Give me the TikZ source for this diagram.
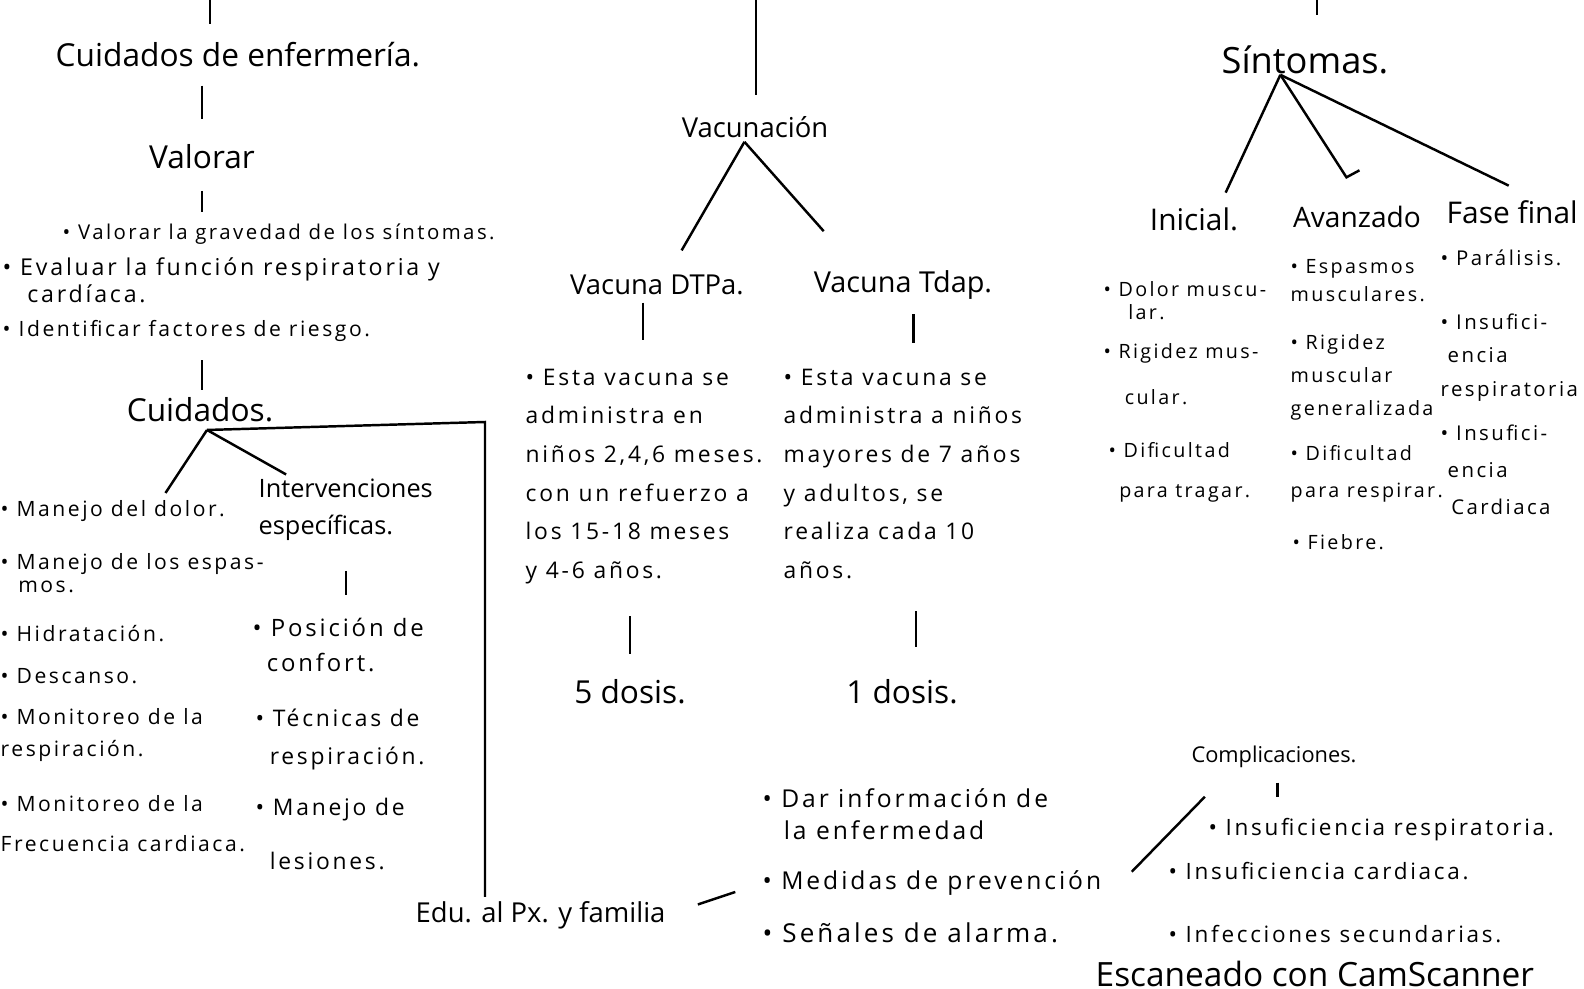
\documentclass[tikz,border=0pt]{standalone}
\usepackage{fontspec}
\setmainfont{Open Sans}
\newfontfamily\mano{Open Sans}[LetterSpace=12]
\tikzstyle{titulo}=[font=\fontsize{9}{11}\selectfont,inner sep=0pt]
\tikzstyle{rama}=[font=\fontsize{7.8}{10.5}\selectfont,inner sep=0pt]
\tikzstyle{nota}=[font=\mano\fontsize{6}{10}\selectfont,inner sep=0pt,align=left,anchor=north west]
\tikzstyle{trazo}=[line width=0.7pt]

\begin{document}
\begin{tikzpicture}[x=0.01cm,y=-0.01cm]
\fill[white] (0,0) rectangle (1584,989);
\useasboundingbox (0,0) rectangle (1584,989);
% cuidados de enfermeria
\coordinate (sup1) at (210,-5);
\node[titulo,anchor=west] at (55,55) (cde) {Cuidados de enfermería.};
\node[rama,font=\fontsize{9}{11}\selectfont] at (202,157) (val) {Valorar};
\node[nota,font=\mano\fontsize{5.8}{7}\selectfont] at (62,223) (val1) {\textbullet{} Valorar la gravedad de los síntomas.};
\node[nota,font=\mano\fontsize{6.6}{5.5}\selectfont] at (2,257) (val2) {\textbullet{} Evaluar la función respiratoria y\\\hspace{7pt}cardíaca.};
\node[nota] at (2,320) (val3) {\textbullet{} Identificar factores de riesgo.};
\node[titulo] at (200,410) (cui) {Cuidados.};
\coordinate (cuip) at ([xshift=2pt,yshift=-2pt]cui.south);
\coordinate (esq) at (485,422);
\node[nota] at (0,500) (man1) {\textbullet{} Manejo del dolor.};
\node[nota,font=\mano\fontsize{6}{6.5}\selectfont] at (0,553) (man2) {\textbullet{} Manejo de los espas-\\\hspace{5pt}mos.};
\node[nota] at (0,625) (man3) {\textbullet{} Hidratación.};
\node[nota] at (0,668) (man4) {\textbullet{} Descanso.};
\node[nota,font=\mano\fontsize{6}{9}\selectfont] at (0,708) (man5) {\textbullet{} Monitoreo de la\\respiración.};
\node[nota,font=\mano\fontsize{6}{11.4}\selectfont] at (0,795) (man6) {\textbullet{} Monitoreo de la\\Frecuencia cardiaca.};
\node[nota,font=\fontsize{7.2}{10.5}\selectfont] at (258,478) (int) {Intervenciones\\específicas.};
\node[nota,font=\mano\fontsize{6.8}{10}\selectfont] at (252,617) (pos) {\textbullet{} Posición de\\\hspace{4pt}confort.};
\node[nota,font=\mano\fontsize{6.5}{10.8}\selectfont] at (255,708) (tec) {\textbullet{} Técnicas de\\\hspace{4pt}respiración.};
\node[nota,font=\mano\fontsize{6.5}{15.5}\selectfont] at (255,797) (mnj) {\textbullet{} Manejo de\\\hspace{4pt}lesiones.};
\node[rama,anchor=west] at (415,915) (edu) {Edu. al Px. y familia};
\draw[trazo,shorten >=5pt] (sup1) -- (cde.north -| sup1);
\draw[trazo,shorten <=5pt,shorten >=7pt] (cde.south -| val) -- (val.north);
\draw[trazo,shorten <=6pt,shorten >=3pt] (val.south) -- (val1.north -| val);
\draw[trazo,shorten <=5pt,shorten >=2pt] (val3.south -| val) -- (cui.north -| val);
\draw[trazo] (cuip) -- ([xshift=15pt,yshift=2pt]man1.north);
\draw[trazo] (cuip) -- ([xshift=8pt,yshift=1pt]int.north west);
\draw[trazo,shorten >=1pt] (cuip) -- (esq) -- (esq |- edu.north);
\draw[trazo,shorten <=8.5pt,shorten >=6.3pt] (int.south) -- (int.south |- pos.north);
% vacunacion
\coordinate (sup2) at (756,-5);
\node[rama] at (755,127) (vac) {Vacunación};
\coordinate (vacp) at ([xshift=-3pt,yshift=-1pt]vac.south);
\node[rama] at (657,285) (dtp) {Vacuna DTPa.};
\node[rama,font=\fontsize{8.2}{10}\selectfont] at (903,285) (tdp) {Vacuna Tdap.};
\node[nota,font=\mano\fontsize{6.5}{11}\selectfont] at (525,368) (d1) {\textbullet{} Esta vacuna se\\administra en\\niños 2,4,6 meses.\\con un refuerzo a\\los 15-18 meses\\y 4-6 años.};
\node[nota,font=\mano\fontsize{6.5}{11}\selectfont] at (783,368) (t1) {\textbullet{} Esta vacuna se\\administra a niños\\mayores de 7 años\\y adultos, se\\realiza cada 10\\años.};
\node[rama,font=\fontsize{9}{11}\selectfont] at (630,692) (dos5) {5 dosis.};
\node[rama,font=\fontsize{9}{11}\selectfont] at (902,692) (dos1) {1 dosis.};
\draw[trazo,shorten >=6pt] (sup2) -- (vac.north -| sup2);
\draw[trazo] (vacp) -- ([xshift=7pt,yshift=6.8pt]dtp.north);
\draw[trazo] (vacp) -- ([xshift=3pt,yshift=11pt]tdp.north west);
\draw[trazo,shorten <=2pt,shorten >=8pt] ([xshift=-4pt]dtp.south) -- ([xshift=-4pt]dtp.south |- d1.north);
\draw[trazo,shorten <=4pt,shorten >=7pt] ([xshift=3pt]tdp.south) -- ([xshift=3pt]tdp.south |- t1.north);
\draw[trazo,shorten <=9pt,shorten >=7pt] (d1.south -| dos5) -- (dos5.north);
\draw[trazo,shorten <=9pt,shorten >=9pt] ([xshift=4pt]t1.south -| dos1) -- ([xshift=4pt]dos1.north);
% educacion y complicaciones
\node[nota,font=\mano\fontsize{7}{9}\selectfont] at (762,788) (inf) {\textbullet{} Dar información de\\\hspace{6pt}la enfermedad};
\node[nota,font=\mano\fontsize{7}{9}\selectfont] at (762,870) (med) {\textbullet{} Medidas de prevención};
\node[nota,font=\mano\fontsize{7.4}{9}\selectfont] at (762,922) (sen) {\textbullet{} Señales de alarma.};
\node[rama,font=\fontsize{6.2}{8}\selectfont] at (1274,757) (comp) {Complicaciones.};
\node[nota,font=\mano\fontsize{6.4}{10}\selectfont] at (1208,818) (insr) {\textbullet{} Insuficiencia respiratoria.};
\node[nota,font=\mano\fontsize{6.4}{10}\selectfont] at (1168,862) (insc) {\textbullet{} Insuficiencia cardiaca.};
\node[nota,font=\mano\fontsize{6.4}{10}\selectfont] at (1168,925) (infs) {\textbullet{} Infecciones secundarias.};
\draw[trazo,shorten <=9.5pt,shorten >=8pt] (edu.east) -- (med.west);
\draw[trazo] ([xshift=4pt,yshift=-8pt]comp.south west) -- ([xshift=8.5pt,yshift=-0.5pt]med.north east);
\draw[trazo,shorten <=4pt,shorten >=6pt] ([xshift=1pt]comp.south) -- ([xshift=1pt]comp.south |- insr.north);
\node[anchor=north west,inner sep=0pt,font=\fontsize{9.5}{11}\selectfont] at (1095,960) (scan) {Escaneado con CamScanner};
% sintomas
\coordinate (sup3) at (1317,-5);
\node[titulo,font=\fontsize{10.3}{12}\selectfont] at (1305,60) (sin) {Síntomas.};
\coordinate (sinp) at ([xshift=-7pt,yshift=0pt]sin.south);
\node[rama,font=\fontsize{8.5}{10}\selectfont] at (1194,219) (ini) {Inicial.};
\node[rama,font=\fontsize{8}{10}\selectfont] at (1357,217) (ava) {Avanzado};
\node[rama,font=\fontsize{8.5}{10}\selectfont,anchor=west] at (1446,212) (fas) {Fase final};
\draw[trazo,shorten >=8.5pt] (sup3) -- (sin.north -| sup3);
\draw[trazo] (sinp) -- ([xshift=9pt,yshift=4pt]ini.north);
\draw[trazo] (sinp) -- ([xshift=-3pt,yshift=8pt]ava.north) -- ++(13,-7);
\draw[trazo] (sinp) -- ([xshift=-1pt,yshift=4pt]fas.north);
\node[nota,font=\mano\fontsize{5.6}{6.5}\selectfont] at (1103,281) (ini1) {\textbullet{} Dolor muscu-\\\hspace{7pt}lar.};
\node[nota,font=\mano\fontsize{5.6}{13}\selectfont] at (1103,343) (ini2) {\textbullet{} Rigidez mus-\\\hspace{6pt}cular.};
\node[nota,font=\mano\fontsize{5.6}{11.4}\selectfont] at (1108,442) (ini3) {\textbullet{} Dificultad\\\hspace{3pt}para tragar.};
\node[nota,font=\mano\fontsize{5.6}{8}\selectfont] at (1290,259) (ava1) {\textbullet{} Espasmos\\musculares.};
\node[nota,font=\mano\fontsize{5.6}{9.3}\selectfont] at (1290,334) (ava2) {\textbullet{} Rigidez\\muscular\\generalizada};
\node[nota,font=\mano\fontsize{5.6}{10.5}\selectfont] at (1290,445) (ava3) {\textbullet{} Dificultad\\para respirar.};
\node[nota,font=\mano\fontsize{5.6}{8}\selectfont] at (1292,534) (ava4) {\textbullet{} Fiebre.};
\node[nota,font=\mano\fontsize{5.8}{8}\selectfont] at (1440,249) (fas1) {\textbullet{} Parálisis.};
\node[nota,font=\mano\fontsize{5.8}{9.5}\selectfont] at (1440,313) (fas2) {\textbullet{} Insufici-\\\hspace{2pt}encia\\respiratoria};
\node[nota,font=\mano\fontsize{5.8}{10.5}\selectfont] at (1440,424) (fas3) {\textbullet{} Insufici-\\\hspace{2pt}encia\\\hspace{3pt}Cardiaca};
\end{tikzpicture}
\end{document}
